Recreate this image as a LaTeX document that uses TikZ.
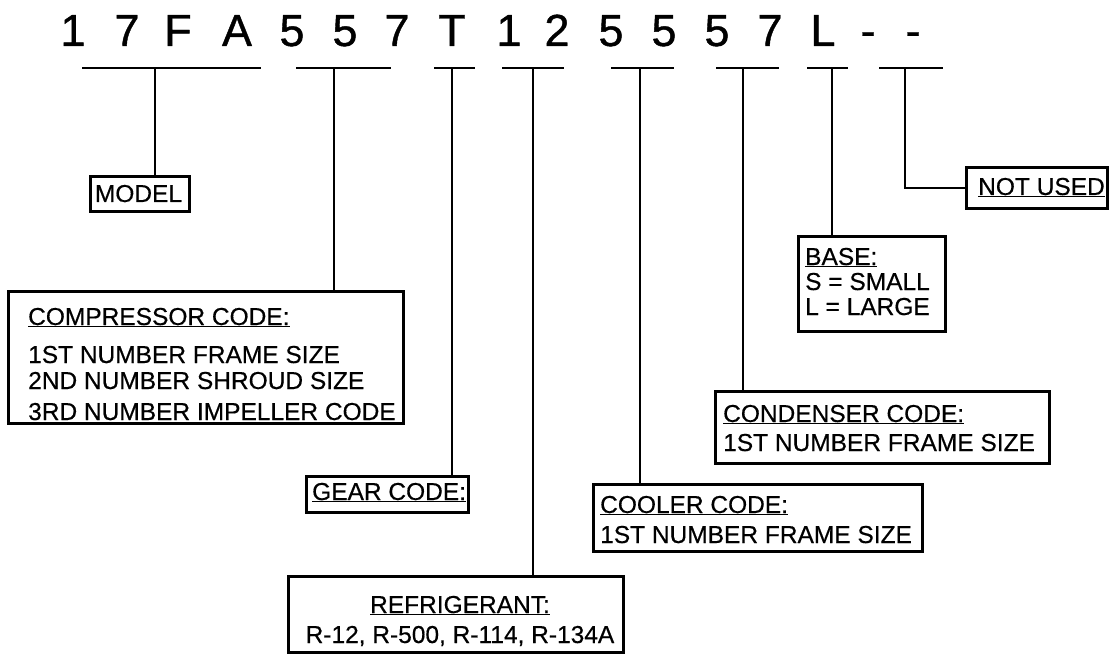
\documentclass[tikz,border=0pt]{standalone}
\usepackage{fontspec}
\setmainfont{Liberation Sans}
\newfontfamily\codefont[FakeBold=0.9]{Liberation Sans}
\newfontfamily\labelfont[FakeBold=0.5]{Liberation Sans}
\newcommand{\ulab}[1]{\underline{#1}}
\begin{document}
\begin{tikzpicture}[x=1bp,y=-1bp,
  code/.style={font=\codefont\fontsize{45bp}{54bp}\selectfont, anchor=base, inner sep=0pt},
  bar/.style={line width=2.6bp},
  conn/.style={line width=2.2bp},
  box/.style={draw, line width=2.6bp, anchor=north west, inner sep=0pt, rectangle},
  txt/.style={font=\labelfont\fontsize{24.5bp}{29bp}\selectfont, anchor=base west, inner sep=0pt},
  ctxt/.style={font=\labelfont\fontsize{24.5bp}{29bp}\selectfont, anchor=base, inner sep=0pt}]
\useasboundingbox (0,0) rectangle (1109,656);
% code characters
\node[code] (c1)  at (73,46)  {1};
\node[code] (c2)  at (127,46) {7};
\node[code] (c3)  at (178,46) {F};
\node[code] (c4)  at (237,46) {A};
\node[code] (c5)  at (292,46) {5};
\node[code] (c6)  at (345,46) {5};
\node[code] (c7)  at (397,46) {7};
\node[code] (c8)  at (452,46) {T};
\node[code] (c9)  at (509,46) {1};
\node[code] (c10) at (557,46) {2};
\node[code] (c11) at (611,46) {5};
\node[code] (c12) at (664,46) {5};
\node[code] (c13) at (717,46) {5};
\node[code] (c14) at (770,46) {7};
\node[code] (c15) at (823,46) {L};
\node[code] (c16) at (868,46) {-};
\node[code] (c17) at (913,46) {-};
% bars
\coordinate (b1l) at (82,68);  \coordinate (b1r) at (261,68);
\coordinate (b2l) at (296,68); \coordinate (b2r) at (391,68);
\coordinate (b3l) at (434,68); \coordinate (b3r) at (475,68);
\coordinate (b4l) at (502,68); \coordinate (b4r) at (564,68);
\coordinate (b5l) at (611,68); \coordinate (b5r) at (674,68);
\coordinate (b6l) at (716,68); \coordinate (b6r) at (779,68);
\coordinate (b7l) at (807,68); \coordinate (b7r) at (848,68);
\coordinate (b8l) at (879,68); \coordinate (b8r) at (943,68);
\foreach \i in {1,...,8} {\draw[bar] (b\i l) -- (b\i r);}
\coordinate (v1) at (155,68);
\coordinate (v2) at (334,68);
\coordinate (v3) at (452,68);
\coordinate (v4) at (533,68);
\coordinate (v5) at (640,68);
\coordinate (v6) at (743,68);
\coordinate (v7) at (832,68);
\coordinate (v8) at (905,68);
% boxes
\node[box, minimum width=99bp, minimum height=35bp] (model) at (89,175) {};
\node[box, minimum width=395bp, minimum height=132bp] (comp) at (7,290) {};
\node[box, minimum width=162bp, minimum height=36bp] (gear) at (305,475) {};
\node[box, minimum width=335bp, minimum height=76bp] (refr) at (287,575) {};
\node[box, minimum width=329bp, minimum height=67bp] (cool) at (592,483) {};
\node[box, minimum width=334bp, minimum height=72bp] (cond) at (714,390) {};
\node[box, minimum width=147bp, minimum height=95bp] (base) at (797,235) {};
\node[box, minimum width=141bp, minimum height=41bp] (nused) at (965,166) {};
% texts
\node[ctxt] (tmodel) at (138.5,202) {MODEL};
\node[txt] (tnused) at (978,195) {\ulab{NOT USED}};
\node[txt] (tcomp1) at (28,325) {\ulab{COMPRESSOR CODE:}};
\node[txt] (tcomp2) at (28,363) {1ST NUMBER FRAME SIZE};
\node[txt] (tcomp3) at (28,389) {2ND NUMBER SHROUD SIZE};
\node[txt] (tcomp4) at (28,420) {3RD NUMBER IMPELLER CODE};
\node[txt] (tgear) at (312,500) {\ulab{GEAR CODE:}};
\node[ctxt] (trefr1) at (460,613) {\ulab{REFRIGERANT:}};
\node[ctxt] (trefr2) at (460,643) {R-12, R-500, R-114, R-134A};
\node[txt] (tcool1) at (600,513) {\ulab{COOLER CODE:}};
\node[txt] (tcool2) at (600,543) {1ST NUMBER FRAME SIZE};
\node[txt] (tcond1) at (723,422) {\ulab{CONDENSER CODE:}};
\node[txt] (tcond2) at (723,451) {1ST NUMBER FRAME SIZE};
\node[txt] (tbase1) at (805,265) {\ulab{BASE:}};
\node[txt] (tbase2) at (805,290) {S = SMALL};
\node[txt] (tbase3) at (805,315) {L = LARGE};
% connectors
\draw[conn] (v1) -- (v1 |- model.north);
\draw[conn] (v2) -- (v2 |- comp.north);
\draw[conn] (v3) -- (v3 |- gear.north);
\draw[conn] (v4) -- (v4 |- refr.north);
\draw[conn] (v5) -- (v5 |- cool.north);
\draw[conn] (v6) -- (v6 |- cond.north);
\draw[conn] (v7) -- (v7 |- base.north);
\draw[conn] (v8) |- (nused.west);
\end{tikzpicture}
\end{document}
